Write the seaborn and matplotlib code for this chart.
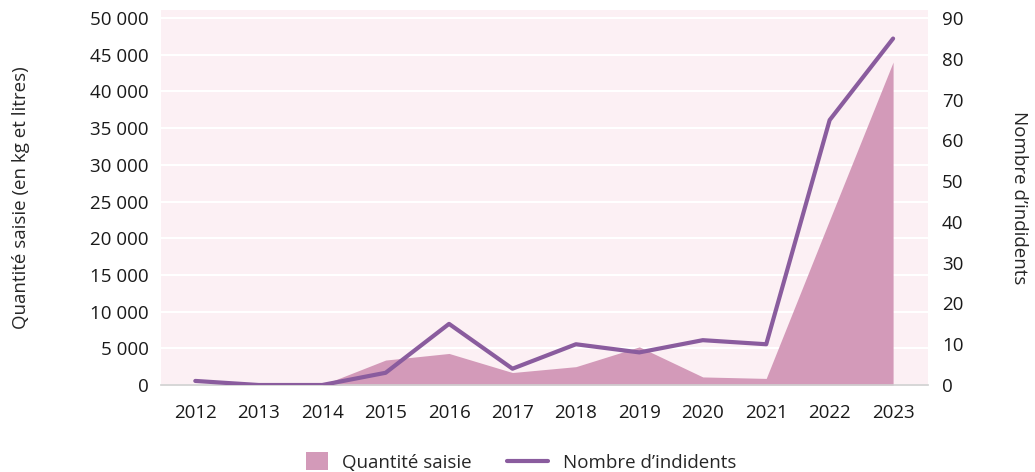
import numpy as np
import pandas as pd
import matplotlib.pyplot as plt
import matplotlib.ticker as mticker
from matplotlib.patches import Patch, Rectangle
from matplotlib.lines import Line2D
from matplotlib.legend_handler import HandlerPatch
import seaborn as sns

# data
years = ["2012", "2013", "2014", "2015", "2016", "2017",
         "2018", "2019", "2020", "2021", "2022", "2023"]
quantite = [0, 0, 0, 3400, 4300, 1700, 2500, 5200, 1100, 900, 22500, 44000]
incidents = [1, 0, 0, 3, 15, 4, 10, 8, 11, 10, 65, 85]

df = pd.DataFrame({"annee": years, "quantite": quantite, "incidents": incidents})
df["pos"] = np.arange(len(df))

AREA = "#d39ab9"
LINE = "#8a5c9e"
BG = "#fcf0f4"
FS = 13.5

sns.set_theme(style="white")
plt.rcParams["font.family"] = ["Open Sans", "DejaVu Sans"]

fig = plt.figure(figsize=(10.35, 4.72), dpi=100)
ax = fig.add_axes([0.1556, 0.1843, 0.7410, 0.7945])
ax.set_facecolor(BG)

ax.fill_between(df["pos"], df["quantite"], color=AREA, lw=0, zorder=2)
ax.set_ylim(0, 51100)
ax.set_yticks(range(0, 50001, 5000))
ax.yaxis.set_major_formatter(mticker.FuncFormatter(lambda v, p: f"{int(v):,}".replace(",", " ")))
ax.grid(axis="y", color="white", lw=1.5, zorder=1)
ax.set_axisbelow(True)
ax.set_xlim(-0.54, 11.55)
ax.set_xticks(df["pos"])
ax.set_xticklabels(df["annee"])
ax.set_ylabel("Quantité saisie (en kg et litres)", fontsize=FS)
ax.yaxis.set_label_coords(-0.171, 0.5)
ax.set_xlabel("")

ax2 = ax.twinx()
sns.lineplot(data=df, x="pos", y="incidents", ax=ax2, color=LINE, lw=3, zorder=3)
ax2.set_ylim(0, 92)
ax2.set_yticks(range(0, 91, 10))
ax2.set_ylabel("Nombre d\u2019indidents", fontsize=FS, rotation=-90, va="center")
ax2.yaxis.set_label_coords(1.119, 0.5)
ax2.set_xlim(-0.54, 11.55)
ax2.set_xlabel("")

for a in (ax, ax2):
    for s in a.spines.values():
        s.set_visible(False)
    a.tick_params(length=0, labelsize=FS, colors="#1a1a1a")
ax.spines["bottom"].set_visible(True)
ax.spines["bottom"].set_color("#cfcfcf")
ax.spines["bottom"].set_linewidth(1.2)
ax.tick_params(axis="x", pad=14)
ax.tick_params(axis="y", pad=9)
ax2.tick_params(axis="y", pad=10)


def square_patch(legend, orig_handle, xdescent, ydescent, width, height, fontsize):
    w = height * 1.7
    return Rectangle((-xdescent + width - w, -ydescent - 2), w, height + 4)


handles = [Patch(facecolor=AREA, edgecolor="none"),
           Line2D([0], [0], color=LINE, lw=3)]
fig.legend(handles, ["Quantité saisie", "Nombre d\u2019indidents"],
           loc="lower center", bbox_to_anchor=(0.494, -0.035), ncol=2,
           frameon=False, fontsize=FS, handlelength=2.2, columnspacing=1.9,
           handletextpad=0.75,
           handler_map={Patch: HandlerPatch(patch_func=square_patch)})

plt.savefig("out.png", dpi=100)
